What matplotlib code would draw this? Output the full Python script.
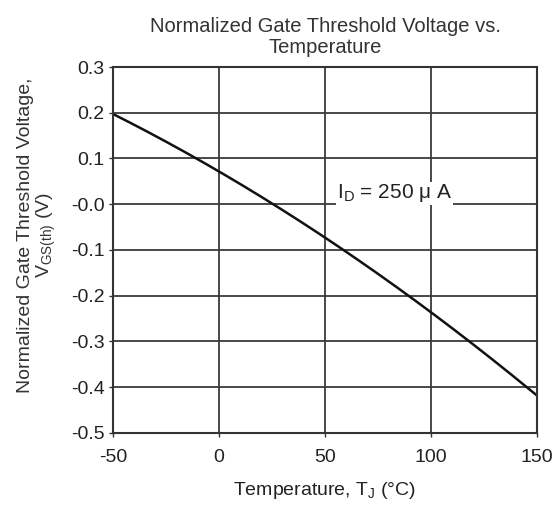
import numpy as np
import matplotlib
matplotlib.use('Agg')
from matplotlib import pyplot as plt

plt.rcParams['font.family'] = ['Liberation Sans', 'DejaVu Sans']
plt.rcParams['axes.unicode_minus'] = False

# curve: Tj (degC) vs normalized Vgs(th) (V)
temp = [-50, -25, 0, 25, 50, 75, 100, 125, 150]
vth = [0.20, 0.135, 0.069, 0.0, -0.072, -0.15, -0.235, -0.325, -0.42]

xticks = [-50, 0, 50, 100, 150]
yticks = [0.3, 0.2, 0.1, 0.0, -0.1, -0.2, -0.3, -0.4, -0.5]
ylabels = ['0.3', '0.2', '0.1', '-0.0', '-0.1', '-0.2', '-0.3', '-0.4', '-0.5']

# smooth the measured points a bit
tt = np.linspace(-50, 150, 200)
coef = np.polyfit(temp, vth, 2)
vv = np.polyval(coef, tt)

fig = plt.figure(figsize=(5.57, 5.08), dpi=100)
ax = fig.add_axes([0.203, 0.148, 0.761, 0.72])

ax.plot(tt, vv, color='#111111', lw=1.8)
ax.set_xlim(-50, 150)
ax.set_ylim(-0.5, 0.3)
ax.set_xticks(xticks)
ax.set_yticks(yticks)
ax.set_yticklabels(ylabels)
ax.grid(True, color='#3a3a3a', lw=1.3)
for s in ax.spines.values():
    s.set_color('#333333')
    s.set_linewidth(1.5)
ax.tick_params(length=3, width=1, color='#333333', labelsize=14, labelcolor='#222222')
ax.tick_params(axis='x', pad=9)
ax.tick_params(axis='y', pad=3)

ax.text(55.5, 0.0, r'I$_\mathregular{D}$ = 250 $\mathregular{\mu}$ A', fontsize=15, color='#222222',
        ha='left', va='bottom', bbox=dict(facecolor='white', edgecolor='none', pad=0.5))

ax.set_title('Normalized Gate Threshold Voltage vs.\nTemperature', fontsize=14.5, pad=10,
             color='#333333', linespacing=1.15)
ax.set_xlabel('Temperature, T$_\\mathregular{J}$ (\u00b0C)', fontsize=14, color='#222222', labelpad=10)
ax.set_ylabel('Normalized Gate Threshold Voltage,\nV$_\\mathregular{GS(th)}$ (V)', fontsize=14,
              color='#333333', labelpad=8, linespacing=1.0)
ax.yaxis.set_label_coords(-0.13, 0.54)

fig.savefig('out.png', dpi=100)
